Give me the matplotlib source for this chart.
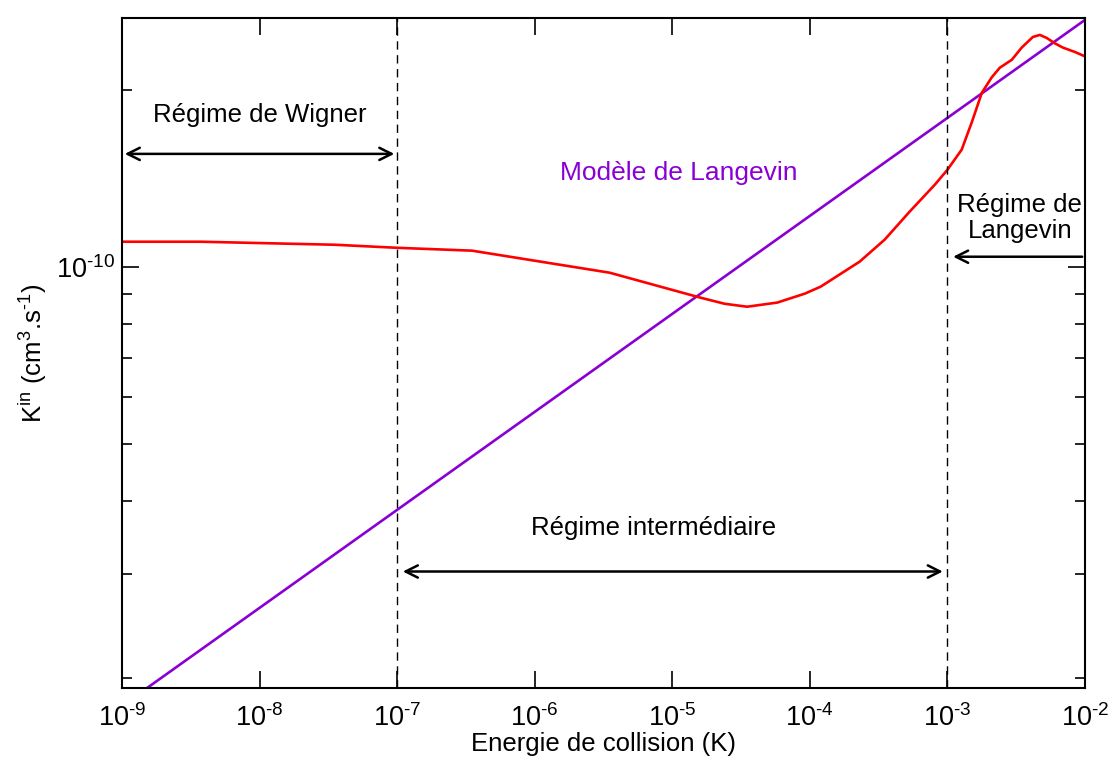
import matplotlib
matplotlib.use("Agg")
import matplotlib.pyplot as plt
from matplotlib.ticker import LogLocator, NullFormatter, FixedFormatter, FixedLocator

plt.rcParams['font.family'] = ['Liberation Sans', 'DejaVu Sans']
plt.rcParams['mathtext.fontset'] = 'custom'
plt.rcParams['mathtext.rm'] = 'Liberation Sans'
plt.rcParams['mathtext.it'] = 'Liberation Sans:italic'

# Courbe calculee (rouge)
E_calc = [1e-9, 3.7e-9, 3.5e-8, 1e-7, 3.5e-7, 3.5e-6, 1.6e-5, 2.4e-5, 3.5e-5,
          5.8e-5, 9.2e-5, 1.2e-4, 2.3e-4, 3.5e-4, 5.3e-4, 8.1e-4, 1e-3,
          1.27e-3, 1.5e-3, 1.78e-3, 2.1e-3, 2.4e-3, 2.94e-3, 3.47e-3, 4.18e-3,
          4.7e-3, 5.28e-3, 6.03e-3, 6.9e-3, 8.43e-3, 1e-2]
K_calc = [1.103e-10, 1.103e-10, 1.09e-10, 1.077e-10, 1.065e-10, 0.977e-10,
          0.886e-10, 0.865e-10, 0.855e-10, 0.869e-10, 0.900e-10, 0.925e-10,
          1.02e-10, 1.112e-10, 1.24e-10, 1.379e-10, 1.462e-10,
          1.582e-10, 1.758e-10, 1.977e-10, 2.10e-10, 2.18e-10, 2.25e-10,
          2.36e-10, 2.46e-10, 2.48e-10, 2.45e-10, 2.40e-10, 2.36e-10,
          2.32e-10, 2.28e-10]

# Modele de Langevin (violet)
E_lang = [1e-9, 1e-2]
K_lang = [1.79e-11, 2.63e-10]

# Limites des regimes
E_wigner = 1e-7
E_langevin = 1e-3

x_ticks = [1e-9, 1e-8, 1e-7, 1e-6, 1e-5, 1e-4, 1e-3, 1e-2]
x_labels = [r'$\mathregular{10^{\text{-}%d}}$' % n for n in range(9, 1, -1)]

fig = plt.figure(figsize=(11.16, 7.65), dpi=100)
ax = fig.add_axes([0.1093, 0.1007, 0.8629, 0.8758])

ax.plot(E_lang, K_lang, color='#8a00d4', lw=1.9)
ax.plot(E_calc, K_calc, color='#ff0000', lw=1.9)

ax.set_xscale('log')
ax.set_yscale('log')
ax.set_xlim(1e-9, 1e-2)
ax.set_ylim(1.92e-11, 2.65e-10)

for xv in [E_wigner, E_langevin]:
    ax.axvline(xv, color='black', lw=1.0, ls=(0, (6, 4)))

# Fleches
arr = dict(arrowstyle='<->', color='black', lw=1.8, mutation_scale=22)
ax.annotate('', xy=(1e-9, 1.556e-10), xytext=(1e-7, 1.556e-10), arrowprops=arr)
ax.annotate('', xy=(1.05e-7, 3.03e-11), xytext=(0.97e-3, 3.03e-11), arrowprops=arr)
ax.annotate('', xy=(1.05e-3, 1.04e-10), xytext=(1e-2, 1.04e-10),
            arrowprops=dict(arrowstyle='->', color='black', lw=1.8, mutation_scale=22))

ax.text(1e-8, 1.81e-10, 'Régime de Wigner', ha='center', va='center', fontsize=18.5)
ax.text(10**-5.134, 3.6e-11, 'Régime intermédiaire', ha='center', va='center', fontsize=18.5)
ax.text(10**-4.952, 1.445e-10, 'Modèle de Langevin', ha='center', va='center',
        fontsize=19, color='#8a00d4')
ax.text(10**-2.474, 1.21e-10, 'Régime de\nLangevin', ha='center', va='center',
        fontsize=18.5, linespacing=1.1)

ax.xaxis.set_major_locator(FixedLocator(x_ticks))
ax.xaxis.set_major_formatter(FixedFormatter(x_labels))
ax.xaxis.set_minor_locator(FixedLocator([]))
ax.yaxis.set_major_locator(FixedLocator([1e-10]))
ax.yaxis.set_major_formatter(FixedFormatter([r'$\mathregular{10^{\text{-}10}}$']))
ax.yaxis.set_minor_locator(LogLocator(base=10, subs=range(2, 10)))
ax.yaxis.set_minor_formatter(NullFormatter())

ax.tick_params(which='both', direction='in', top=True, right=True, width=1.2,
               labelsize=19.5)
ax.tick_params(axis='x', pad=12)
ax.tick_params(axis='y', pad=5)
ax.tick_params(which='major', length=12)
ax.tick_params(which='minor', length=7)
for s in ax.spines.values():
    s.set_linewidth(1.5)

ax.set_xlabel('Energie de collision (K)', fontsize=18.5, labelpad=0)
ax.set_ylabel(r'K$^{\mathregular{in}}$ (cm$^{\mathregular{3}}$.s$^{\mathregular{\text{-}1}}$)',
              fontsize=18.5, labelpad=5)

fig.savefig('out.png', dpi=100)
